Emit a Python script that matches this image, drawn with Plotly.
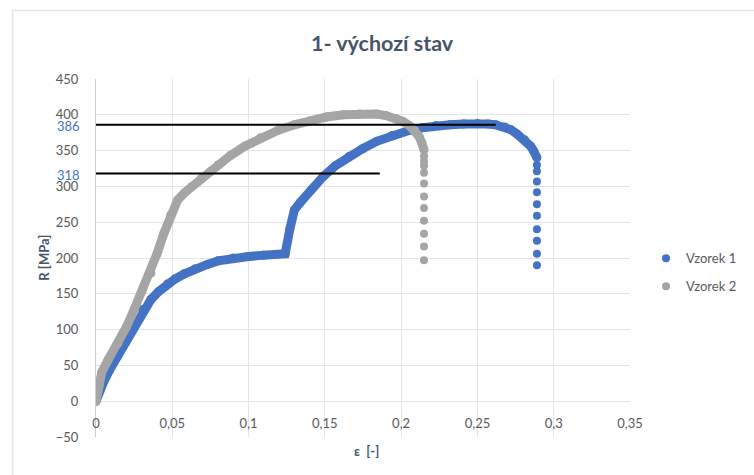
import plotly.graph_objects as go

# Vzorek 1 - continuous part of the stress-strain record
strain_1 = [0, 0.002, 0.005, 0.009, 0.0145, 0.020, 0.025, 0.0306, 0.036, 0.041,
            0.047, 0.052, 0.058, 0.065, 0.073, 0.080, 0.090, 0.100, 0.110, 0.118,
            0.124, 0.127, 0.130, 0.134, 0.141, 0.149, 0.157, 0.166, 0.175, 0.184,
            0.194, 0.205, 0.214, 0.223, 0.232, 0.241, 0.250, 0.257, 0.262, 0.268,
            0.272, 0.276, 0.281, 0.285, 0.287, 0.289]
stress_1 = [0, 12, 27, 44, 64, 85, 106, 128, 142, 153,
            164, 171, 178, 185, 191, 196, 200, 202, 204, 205,
            206, 240, 267, 278, 295, 314, 329, 342, 353, 363,
            371, 378, 382, 385, 386, 387, 388, 387, 386, 383,
            379, 373, 365, 356, 349, 340]
# Vzorek 1 - fracture (sparse points)
strain_1_tail = [0.289, 0.289, 0.289, 0.289, 0.289, 0.289, 0.289, 0.289, 0.289, 0.289]
stress_1_tail = [330, 321, 307, 292, 275, 259, 240, 224, 206, 190]

# Vzorek 2 - continuous part
strain_2 = [0, 0.002, 0.0037, 0.008, 0.0145, 0.020, 0.025, 0.030, 0.036, 0.040,
            0.0446, 0.049, 0.0535, 0.058, 0.063, 0.069, 0.075, 0.080, 0.088, 0.0975,
            0.108, 0.119, 0.130, 0.1406, 0.151, 0.162, 0.173, 0.1837, 0.190, 0.1966,
            0.201, 0.2053, 0.209, 0.2117, 0.2135, 0.215]
stress_2 = [0, 22, 40, 58, 81, 104, 128, 153, 179, 206,
            235, 260, 281, 291, 300, 311, 321, 330, 343, 356,
            368, 378, 386, 392, 397, 400, 401, 401, 399, 395,
            391, 385, 378, 370, 361, 351]
# Vzorek 2 - fracture (sparse points)
strain_2_tail = [0.215, 0.215, 0.215, 0.215, 0.215, 0.215, 0.215, 0.215, 0.215, 0.215, 0.215]
stress_2_tail = [342, 335, 329, 319, 304, 286, 270, 252, 234, 216, 197]

# Horizontal reference levels (Rm of each specimen)
ref_levels = [386, 318]
ref_strain_end = [0.262, 0.186]

BLUE = "#4472C4"
GREY = "#A5A5A5"
TEXT = "#595959"
TITLE = "#44546A"
GRID = "#E2E5EA"
FONT = "Lato"

fig = go.Figure()

fig.add_trace(go.Scatter(
    x=strain_1, y=stress_1, mode="lines+markers",
    line=dict(color=BLUE, width=9), marker=dict(color=BLUE, size=9),
    legendgroup="v1", showlegend=False, hoverinfo="skip"))
fig.add_trace(go.Scatter(
    x=strain_1_tail, y=stress_1_tail, mode="markers", name="Vzorek 1",
    marker=dict(color=BLUE, size=8), legendgroup="v1"))

fig.add_trace(go.Scatter(
    x=strain_2, y=stress_2, mode="lines+markers",
    line=dict(color=GREY, width=9), marker=dict(color=GREY, size=9),
    legendgroup="v2", showlegend=False, hoverinfo="skip"))
fig.add_trace(go.Scatter(
    x=strain_2_tail, y=stress_2_tail, mode="markers", name="Vzorek 2",
    marker=dict(color=GREY, size=8), legendgroup="v2"))

for level, x_end in zip(ref_levels, ref_strain_end):
    fig.add_trace(go.Scatter(
        x=[0, x_end], y=[level, level], mode="lines",
        line=dict(color="black", width=2), showlegend=False, hoverinfo="skip"))

annotations = [
    dict(text="<b>1- výchozí stav</b>", xref="paper", yref="paper",
         x=0.536, y=1.100, xanchor="center", yanchor="middle", showarrow=False,
         font=dict(family=FONT, size=21.5, color=TITLE)),
    dict(text="<b>R [MPa]</b>", xref="paper", yref="paper",
         x=-0.098, y=0.50, xanchor="center", yanchor="middle", textangle=-90,
         showarrow=False, font=dict(family=FONT, size=13, color=TITLE)),
    dict(text="<b>ε  [-]</b>", xref="paper", yref="paper",
         x=0.506, y=-0.038, xanchor="center", yanchor="middle",
         showarrow=False, font=dict(family=FONT, size=13, color=TITLE)),
]
for level in ref_levels:
    annotations.append(dict(
        text=str(level), xref="paper", yref="y", x=0, y=level,
        xanchor="right", yanchor="middle", xshift=-14, yshift=-1,
        showarrow=False, font=dict(family=FONT, size=13, color=BLUE)))

fig.update_layout(
    width=754, height=475,
    margin=dict(l=96, r=117, t=79, b=38),
    paper_bgcolor="white", plot_bgcolor="white",
    separators=", ",
    font=dict(family=FONT, size=13, color=TEXT),
    showlegend=True,
    legend=dict(x=1.03, y=0.46, xanchor="left", yanchor="middle",
                font=dict(family=FONT, size=13, color=TEXT),
                tracegroupgap=8, traceorder="grouped",
                bgcolor="rgba(0,0,0,0)"),
    annotations=annotations,
    shapes=[dict(type="rect", xref="paper", yref="paper",
                 x0=-0.156, x1=1.4, y0=-0.3, y1=1.191,
                 line=dict(color=GRID, width=1.5), layer="below")],
    xaxis=dict(range=[0, 0.35], dtick=0.05, tick0=0,
               showgrid=True, gridcolor=GRID, gridwidth=1,
               zeroline=False, showline=False, ticks="",
               anchor="free", position=0.1, ticklabelstandoff=13,
               tickfont=dict(family=FONT, size=13, color=TEXT)),
    yaxis=dict(range=[-50, 450], dtick=50, tick0=0,
               showgrid=True, gridcolor=GRID, gridwidth=1,
               zeroline=False, showline=True, linecolor="#C8CFD9", linewidth=1,
               ticks="", ticklabelstandoff=14,
               tickfont=dict(family=FONT, size=13, color=TEXT)),
)

fig.write_html("out.html")
